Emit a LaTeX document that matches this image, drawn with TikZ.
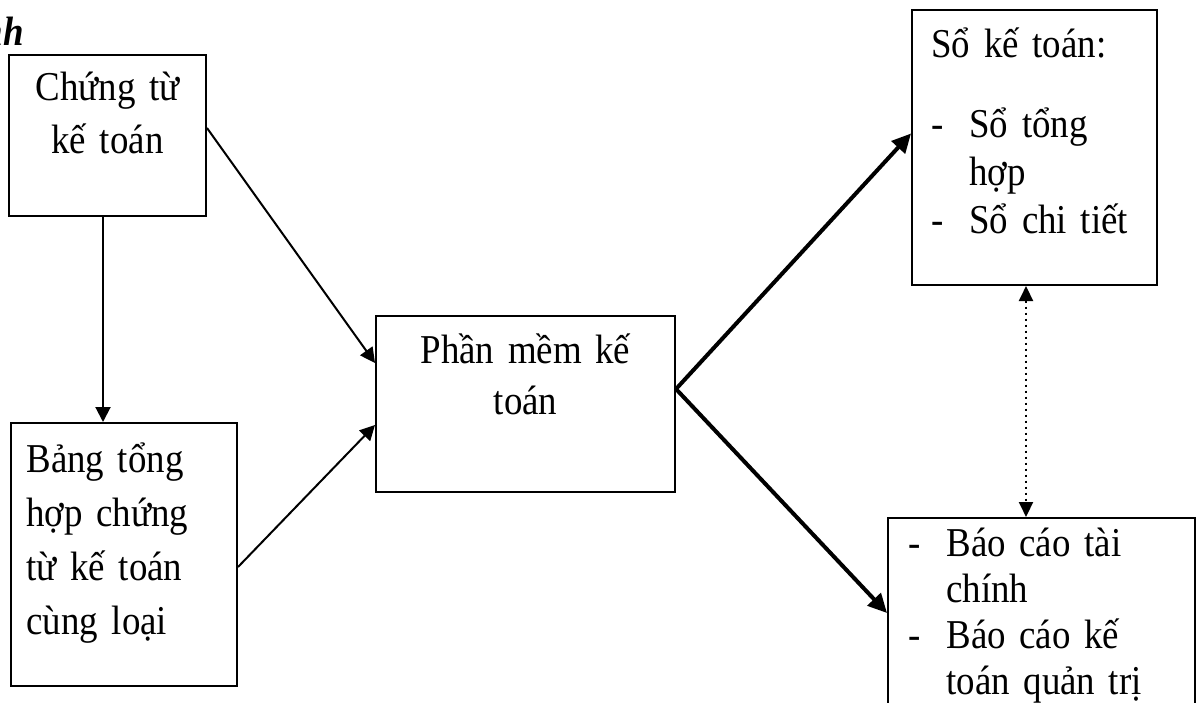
\documentclass[tikz,border=0pt]{standalone}
\usepackage{fontspec}
\setmainfont{Liberation Serif}[FakeStretch=0.9]
\usetikzlibrary{positioning, fit, arrows.meta}

\tikzset{
    box/.style={draw, line width=1pt, inner sep=0pt},
    txt/.style={inner sep=0pt, anchor=base, font=\fontsize{20.5pt}{25.5pt}\selectfont},
    link/.style={line width=1pt, -{Triangle[length=7.5pt, width=7.5pt]}},
    biglink/.style={line width=2pt, -{Triangle[length=9.5pt, width=9pt]}},
    duallink/.style={line width=1pt, dotted, {Triangle[length=7.5pt, width=7pt]}-{Triangle[length=7.5pt, width=7pt]}},
}
\newcommand{\dashitem}{\makebox[19pt][l]{-}}
\newcommand{\hangline}{\hspace*{19pt}}

\begin{document}
\begin{tikzpicture}[x=0.5pt, y=-0.5pt]
    \useasboundingbox (0,0) rectangle (1202,702);

    % boxes
    \node[box, fit={(9,55) (206,216)}] (ctkt) {};
    \node[box, fit={(11,423) (237,686)}] (bang) {};
    \node[box, fit={(376,316) (675,492)}] (pm) {};
    \node[box, fit={(912,10) (1157,285)}] (sk) {};
    \node[box, fit={(888,518) (1195,740)}] (bc) {};

    % texts
    \node[txt, font=\fontsize{20.5pt}{25.5pt}\selectfont\bfseries\itshape, anchor=base east] (tieude) at (24,45) {nh};
    \node[txt, text width=98pt, align=center,
          font=\fontsize{20.5pt}{26.5pt}\selectfont] (ctkt-t) at (107.5,100) {Chứng từ\\kế toán};
    \node[txt, text width=110pt, align=left, anchor=base west,
          font=\fontsize{20.5pt}{27pt}\selectfont] (bang-t) at (26,472)
        {Bảng tổng\\hợp chứng\\từ kế toán\\cùng loại};
    \node[txt, text width=149pt, align=center] (pm-t) at (525.5,363) {Phần mềm kế\\toán};
    \node[txt, text width=115pt, align=left, anchor=base west,
          font=\fontsize{20.5pt}{24pt}\selectfont] (sk-t) at (931,57)
        {Sổ kế toán:\\[16pt]\dashitem Sổ tổng\\\hangline hợp\\\dashitem Sổ chi tiết};
    \node[txt, text width=140pt, align=left, anchor=base west,
          font=\fontsize{20.5pt}{23pt}\selectfont] (bc-t) at (908,556)
        {\dashitem Báo cáo tài\\\hangline chính\\\dashitem Báo cáo kế\\\hangline toán quản trị};

    % connectors
    \draw[link] ([xshift=-2.25pt]ctkt.south) -- ([xshift=-2.25pt]ctkt.south |- bang.north);
    \draw[link] ([yshift=3.75pt]ctkt.east) -- ([yshift=20.5pt]pm.west);
    \draw[link] ([yshift=-6.25pt]bang.east) -- ([yshift=-10.5pt]pm.west);
    \draw[biglink] ([yshift=7.5pt]pm.east) -- ([yshift=7pt]sk.west);
    \draw[biglink] ([yshift=7.5pt]pm.east) -- ([yshift=8pt]bc.west);
    \draw[duallink] ([xshift=-4.25pt]sk.south) -- ([xshift=-4.25pt]sk.south |- bc.north);
\end{tikzpicture}
\end{document}
